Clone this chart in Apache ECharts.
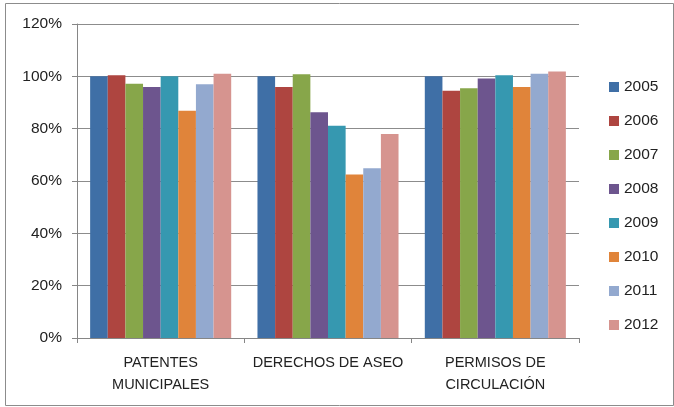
<!DOCTYPE html>
<html><head><meta charset="utf-8">
<script src="https://cdn.jsdelivr.net/npm/echarts@6/dist/echarts.min.js"></script>
<style>html,body{margin:0;padding:0;background:#fff}#c{width:674px;height:407px}</style>
</head><body><div id="c"></div>
<script>
const categories = ['PATENTES\nMUNICIPALES', 'DERECHOS DE ASEO', 'PERMISOS DE\nCIRCULACIÓN'];
const years = ['2005','2006','2007','2008','2009','2010','2011','2012'];
const s2005 = [100, 100, 100];
const s2006 = [100.4, 95.9, 94.5];
const s2007 = [97.2, 100.8, 95.4];
const s2008 = [95.9, 86.3, 99.2];
const s2009 = [100, 81.1, 100.4];
const s2010 = [86.8, 62.5, 95.9];
const s2011 = [97, 64.9, 101];
const s2012 = [101, 78, 101.8];
const yTicks = [0, 20, 40, 60, 80, 100, 120];
const seriesValues = [s2005, s2006, s2007, s2008, s2009, s2010, s2011, s2012];
const colors = ['#3F6FA6','#AE4540','#87A64A','#6D558E','#3698B0','#E0843A','#93A9CF','#D6948F'];
const font = 'Liberation Sans, Arial, sans-serif';
const chart = echarts.init(document.getElementById('c'), null, {renderer:'canvas'});
chart.setOption({
  animation: false,
  color: colors,
  graphic: [{type:'rect', shape:{x:5.5,y:3.5,width:668,height:402}, style:{fill:'none', stroke:'#8c8c8c', lineWidth:1}}],
  grid: {left:77, right:95, top:24, bottom:69},
  legend: {
    orient:'vertical', left:604, top:74, itemWidth:10, itemHeight:10, itemGap:18,
    icon:'rect', textStyle:{fontFamily:font, fontSize:15.5, color:'#222'},
    data: years
  },
  xAxis: {
    type:'category', data: categories,
    axisLine:{lineStyle:{color:'#868686'}},
    axisTick:{show:true, length:5, lineStyle:{color:'#868686'}},
    axisLabel:{fontFamily:font, fontSize:14.5, color:'#222', lineHeight:22, margin:14, interval:0}
  },
  yAxis: {
    type:'value', min: yTicks[0], max: yTicks[yTicks.length-1], interval:20,
    axisLine:{show:true, lineStyle:{color:'#868686'}},
    axisTick:{show:true, length:5, lineStyle:{color:'#868686'}},
    splitLine:{lineStyle:{color:'#8c8c8c'}},
    axisLabel:{fontFamily:font, fontSize:15.5, color:'#222', margin:15, formatter: v => v + '%'}
  },
  series: years.map((y,i) => ({
    name: y, type:'bar', data: seriesValues[i],
    barGap: '0%', barCategoryGap: '15.7%',
    itemStyle: {color: colors[i]}
  }))
});
</script></body></html>
